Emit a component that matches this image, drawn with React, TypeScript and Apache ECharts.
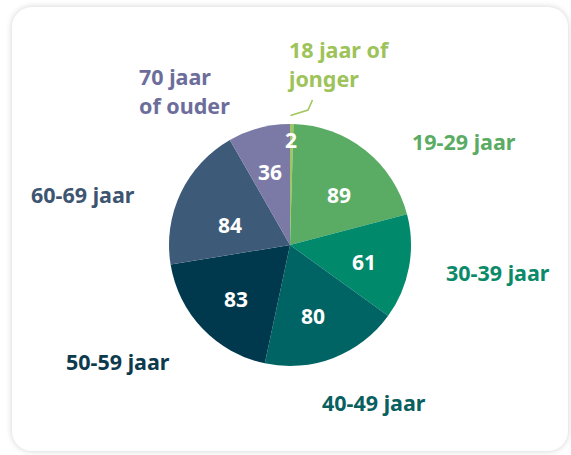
import React, { useEffect, useRef } from "react";
import * as echarts from "echarts";

const categories = [
  "18 jaar of\njonger",
  "19-29 jaar",
  "30-39 jaar",
  "40-49 jaar",
  "50-59 jaar",
  "60-69 jaar",
  "70 jaar\nof ouder",
];
const values = [2, 89, 61, 80, 83, 84, 36];
const sliceColors = ["#a3c55f", "#5aab63", "#00896b", "#006464", "#00394d", "#3d5a78", "#7b7aa6"];
const nameColors = ["#9dc35a", "#5aab63", "#0b8a6a", "#0a5f60", "#0e3a4e", "#3d5570", "#6d6d9b"];

// label placement (layout only)
const valuePos: [number, number][] = [
  [291, 140], [339, 195], [364, 262], [313, 316], [236, 299], [230, 225], [270, 172],
];
const namePos: [number, number][] = [
  [289, 64], [412, 141], [446, 272], [322, 402], [66, 361], [31, 194], [139, 91],
];

const FONT = "'Noto Sans', sans-serif";

export default function App() {
  const ref = useRef<HTMLDivElement>(null);
  useEffect(() => {
    if (!ref.current) return;
    const chart = echarts.init(ref.current, undefined, { renderer: "svg" });
    const data = values.map((v, i) => ({
      name: categories[i],
      value: v,
      itemStyle: { color: sliceColors[i] },
    }));
    chart.setOption({
      animation: false,
      series: [
        {
          type: "pie",
          center: [290, 245],
          radius: [0, 121],
          startAngle: 90,
          clockwise: true,
          data,
          itemStyle: { borderWidth: 0 },
          label: {
            show: true,
            position: "inside",
            formatter: "{c}",
            color: "#ffffff",
            fontFamily: FONT,
            fontWeight: "bold",
            fontSize: 21,
          },
          labelLine: { show: false },
          labelLayout: (p: any) => ({
            x: valuePos[p.dataIndex][0],
            y: valuePos[p.dataIndex][1],
            align: "center",
            verticalAlign: "middle",
          }),
        },
        {
          type: "pie",
          center: [290, 245],
          radius: [0, 121],
          startAngle: 90,
          silent: true,
          data: values.map((v, i) => ({
            name: categories[i],
            value: v,
            itemStyle: { color: "rgba(0,0,0,0)" },
            label: { color: nameColors[i] },
          })),
          label: {
            show: true,
            position: "outside",
            formatter: "{b}",
            fontFamily: FONT,
            fontWeight: "bold",
            fontSize: 21.5,
            lineHeight: 29,
          },
          labelLine: { show: false },
          labelLayout: (p: any) => ({
            x: namePos[p.dataIndex][0],
            y: namePos[p.dataIndex][1],
            align: "left",
            verticalAlign: "middle",
          }),
        },
      ],
      graphic: [
        {
          type: "polyline",
          shape: { points: [[290.5, 115.5], [308, 110], [312.5, 100]] },
          style: { stroke: "#a3c55f", lineWidth: 1.6, fill: "none" },
          silent: true,
        },
      ],
    });
    return () => chart.dispose();
  }, []);
  return (
    <div style={{ position: "absolute", left: 0, top: 0, width: 571, height: 455, background: "#ffffff", overflow: "hidden" }}>
      <div
        style={{
          position: "absolute",
          left: 12,
          top: 7,
          width: 556,
          height: 444,
          borderRadius: 20,
          background: "#ffffff",
          boxShadow: "0 0 6px rgba(0,0,0,0.18)",
        }}
      />
      <div ref={ref} style={{ position: "absolute", left: 0, top: 0, width: 571, height: 455 }} />
    </div>
  );
}
